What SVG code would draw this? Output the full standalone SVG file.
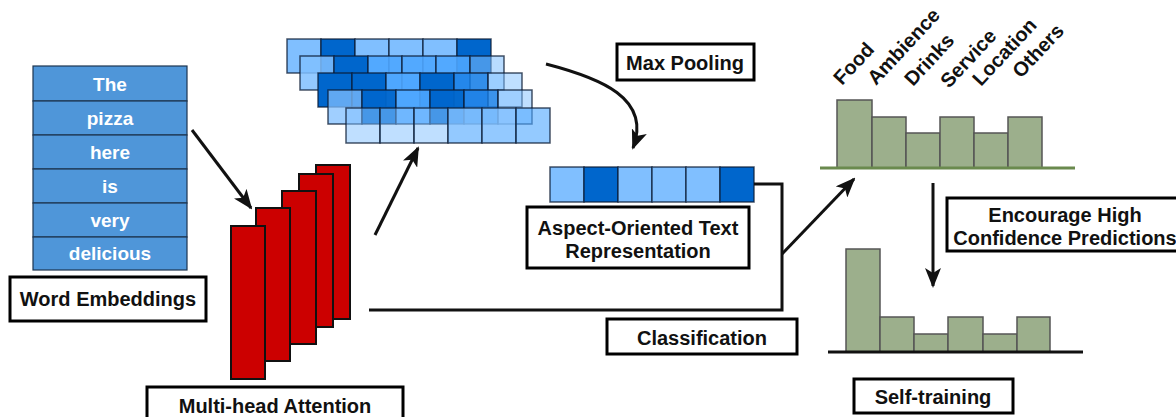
<svg xmlns="http://www.w3.org/2000/svg" width="1176" height="417" viewBox="0 0 1176 417">
<defs>
<style>
.lbl{font-family:"Liberation Sans",Arial,sans-serif;font-weight:bold;font-size:20px;fill:#111;text-anchor:middle}
.box{fill:#fff;stroke:#000;stroke-width:3}
.word{fill:#4f96d9;stroke:#1d3550;stroke-width:1.2}
.wtxt{font-family:"Liberation Sans",Arial,sans-serif;font-weight:bold;font-size:19px;fill:#fff;text-anchor:middle}
.red{fill:#cc0000;stroke:#111;stroke-width:2}
.L{fill:#80bfff}
.M{fill:#4da6ff}
.N{fill:#1a80e6}
.D{fill:#0066cc}
.cell{stroke:#0a1a33;stroke-width:1.5;stroke-opacity:0.75}
.bar{fill:#9caf8c;stroke:#555;stroke-width:1.5}
.cat{font-family:"Liberation Sans",Arial,sans-serif;font-weight:bold;font-size:20px;fill:#111}
.con{fill:none;stroke:#111;stroke-width:3}
</style>
<marker id="ah" viewBox="0 0 20 16" refX="18" refY="8" markerWidth="20" markerHeight="16" orient="auto" markerUnits="userSpaceOnUse">
<path d="M0,0 L20,8 L0,16 L5,8 Z" fill="#111"/>
</marker>
</defs>

<g id="word-embeddings">
<rect class="word" x="33" y="66" width="154" height="35"/>
<rect class="word" x="33" y="101" width="154" height="34"/>
<rect class="word" x="33" y="135" width="154" height="34"/>
<rect class="word" x="33" y="169" width="154" height="34"/>
<rect class="word" x="33" y="203" width="154" height="34"/>
<rect class="word" x="33" y="237" width="154" height="33"/>
<text class="wtxt" x="110" y="91">The</text>
<text class="wtxt" x="110" y="125">pizza</text>
<text class="wtxt" x="110" y="159">here</text>
<text class="wtxt" x="110" y="193">is</text>
<text class="wtxt" x="110" y="227">very</text>
<text class="wtxt" x="110" y="260">delicious</text>
</g>
<g id="word-embeddings-label">
<rect class="box" x="10" y="277" width="196" height="44"/>
<text class="lbl" x="108" y="306">Word Embeddings</text>
</g>

<g id="multi-head-attention">
<rect class="red" x="316" y="165" width="34" height="154"/>
<rect class="red" x="299" y="174" width="34" height="153"/>
<rect class="red" x="282" y="191" width="34" height="153"/>
<rect class="red" x="256" y="208" width="34" height="153"/>
<rect class="red" x="231" y="226" width="34" height="153"/>
</g>
<g id="multi-head-attention-label">
<rect class="box" x="147" y="387" width="256" height="40"/>
<text class="lbl" x="275" y="413">Multi-head Attention</text>
</g>

<g id="attention-maps">
<g>
<rect class="cell L" x="287" y="39" width="34" height="34"/>
<rect class="cell D" x="321" y="39" width="34" height="34"/>
<rect class="cell L" x="355" y="39" width="34" height="34"/>
<rect class="cell L" x="389" y="39" width="34" height="34"/>
<rect class="cell L" x="423" y="39" width="34" height="34"/>
<rect class="cell D" x="457" y="39" width="34" height="34"/>
</g>
<g>
<rect class="cell L" x="300" y="56" width="34" height="34" fill-opacity="0.85"/>
<rect class="cell D" x="334" y="56" width="34" height="34"/>
<rect class="cell M" x="368" y="56" width="34" height="34" fill-opacity="0.9"/>
<rect class="cell M" x="402" y="56" width="34" height="34" fill-opacity="0.9"/>
<rect class="cell M" x="436" y="56" width="34" height="34" fill-opacity="0.9"/>
<rect class="cell L" x="470" y="56" width="34" height="34" fill-opacity="0.55"/>
</g>
<g>
<rect class="cell D" x="318" y="73" width="34" height="34"/>
<rect class="cell D" x="352" y="73" width="34" height="34"/>
<rect class="cell M" x="386" y="73" width="34" height="34" fill-opacity="0.9"/>
<rect class="cell D" x="420" y="73" width="34" height="34"/>
<rect class="cell N" x="454" y="73" width="34" height="34" fill-opacity="0.85"/>
<rect class="cell L" x="488" y="73" width="34" height="34" fill-opacity="0.5"/>
</g>
<g>
<rect class="cell L" x="328" y="90" width="34" height="34" fill-opacity="0.75"/>
<rect class="cell D" x="362" y="90" width="34" height="34" fill-opacity="0.95"/>
<rect class="cell M" x="396" y="90" width="34" height="34" fill-opacity="0.9"/>
<rect class="cell D" x="430" y="90" width="34" height="34" fill-opacity="0.95"/>
<rect class="cell N" x="464" y="90" width="34" height="34" fill-opacity="0.8"/>
<rect class="cell L" x="498" y="90" width="34" height="34" fill-opacity="0.5"/>
</g>
<g>
<rect class="cell L" x="346" y="108" width="34" height="35" fill-opacity="0.5"/>
<rect class="cell L" x="380" y="108" width="34" height="35" fill-opacity="0.5"/>
<rect class="cell L" x="414" y="108" width="34" height="35" fill-opacity="0.5"/>
<rect class="cell L" x="448" y="108" width="34" height="35" fill-opacity="0.85"/>
<rect class="cell L" x="482" y="108" width="34" height="35" fill-opacity="0.85"/>
<rect class="cell M" x="516" y="108" width="34" height="35" fill-opacity="0.6"/>
</g>
</g>

<g id="max-pooling-label">
<rect class="box" x="617" y="44" width="137" height="36"/>
<text class="lbl" x="685" y="70">Max Pooling</text>
</g>

<g id="aspect-vector">
<rect class="cell L" x="550" y="167" width="34" height="35"/>
<rect class="cell D" x="584" y="167" width="34" height="35"/>
<rect class="cell L" x="618" y="167" width="34" height="35"/>
<rect class="cell L" x="652" y="167" width="34" height="35"/>
<rect class="cell L" x="686" y="167" width="34" height="35"/>
<rect class="cell D" x="720" y="167" width="34" height="35"/>
</g>
<g id="aspect-label">
<rect class="box" x="527" y="207" width="222" height="61"/>
<text class="lbl" x="638" y="235">Aspect-Oriented Text</text>
<text class="lbl" x="638" y="258">Representation</text>
</g>

<g id="classification-label">
<rect class="box" x="607" y="319" width="190" height="35"/>
<text class="lbl" x="702" y="345">Classification</text>
</g>

<g id="prediction-chart">
<rect class="bar" x="837" y="100" width="35" height="68"/>
<rect class="bar" x="872" y="117" width="34" height="51"/>
<rect class="bar" x="906" y="133" width="34" height="35"/>
<rect class="bar" x="940" y="117" width="34" height="51"/>
<rect class="bar" x="974" y="133" width="34" height="35"/>
<rect class="bar" x="1008" y="117" width="34" height="51"/>
<line x1="820" y1="168" x2="1075" y2="168" stroke="#6a8a4e" stroke-width="3"/>
<text class="cat" transform="translate(842,86) rotate(-47)">Food</text>
<text class="cat" transform="translate(876,86) rotate(-47)">Ambience</text>
<text class="cat" transform="translate(913,87) rotate(-47)">Drinks</text>
<text class="cat" transform="translate(949,89) rotate(-47)">Service</text>
<text class="cat" transform="translate(981,87) rotate(-47)">Location</text>
<text class="cat" transform="translate(1021,79) rotate(-47)">Others</text>
</g>

<g id="encourage-label">
<rect class="box" x="947" y="198" width="240" height="53"/>
<text class="lbl" x="1065" y="222">Encourage High</text>
<text class="lbl" x="1065" y="245">Confidence Predictions</text>
</g>

<g id="selftrain-chart">
<rect class="bar" x="846" y="249" width="34" height="103"/>
<rect class="bar" x="880" y="317" width="34" height="35"/>
<rect class="bar" x="914" y="334" width="34" height="18"/>
<rect class="bar" x="948" y="317" width="35" height="35"/>
<rect class="bar" x="983" y="334" width="34" height="18"/>
<rect class="bar" x="1017" y="317" width="33" height="35"/>
<line x1="828" y1="352" x2="1083" y2="352" stroke="#111" stroke-width="3"/>
</g>
<g id="selftrain-label">
<rect class="box" x="854" y="379" width="159" height="34"/>
<text class="lbl" x="933" y="404">Self-training</text>
</g>

<g id="connectors">
<line class="con" x1="192" y1="130" x2="251" y2="208" marker-end="url(#ah)"/>
<line class="con" x1="375" y1="235" x2="418" y2="148" marker-end="url(#ah)"/>
<path class="con" d="M546,64 C600,78 652,98 633,148" marker-end="url(#ah)"/>
<path class="con" d="M369,310 H782 V184 H754"/>
<line class="con" x1="782" y1="254" x2="854" y2="179" marker-end="url(#ah)"/>
<line class="con" x1="933" y1="183" x2="933" y2="286" marker-end="url(#ah)"/>
</g>
</svg>
